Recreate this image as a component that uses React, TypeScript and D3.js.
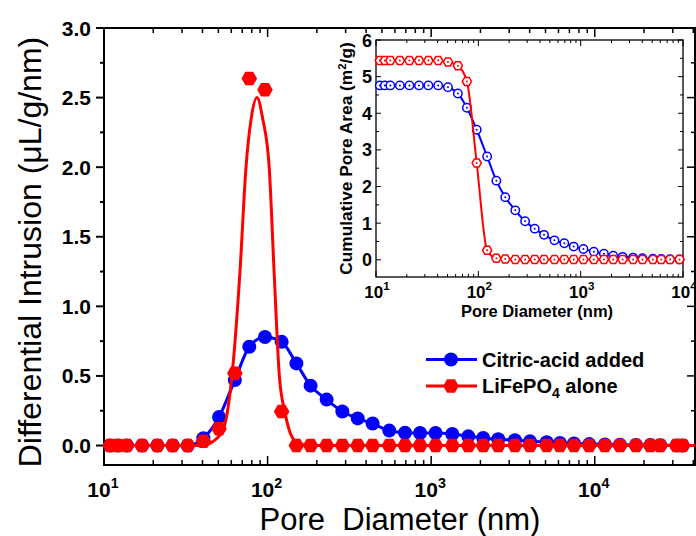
import { useEffect, useRef } from "react";
import * as d3 from "d3";

const FONT = "'Liberation Sans', Arial, Helvetica, sans-serif";
const BLUE = "#0000ff";
const RED = "#ff0000";

// pore diameters (nm) shared by both panels
const poreDiameter = [
  10.9, 12.2, 13.8, 17.1, 21.2, 26.3, 32.5, 40.5, 50.5, 63.1, 77.3, 96.4, 121.9,
  150.0, 183.2, 229.6, 286.4, 355.6, 438.5, 554.6, 691.8, 855.1, 1064, 1346,
  1687, 2080, 2570, 3251, 4018, 5082, 6124, 7464, 9247, 11535, 14256, 17865,
  21878, 25119, 31623, 34435,
];

// differential intrusion (uL/g/nm)
const citricIntrusion = [
  0, 0, 0, 0, 0, 0, 0, 0.052, 0.205, 0.47, 0.71, 0.78, 0.745, 0.59, 0.43, 0.33,
  0.244, 0.195, 0.158, 0.107, 0.092, 0.09, 0.09, 0.083, 0.066, 0.054, 0.045,
  0.038, 0.03, 0.024, 0.018, 0.014, 0.01, 0.008, 0.006, 0.004, 0.003, 0.002,
  0.001, 0,
];
const lfpIntrusion = [
  0, 0, 0, 0, 0, 0, 0, 0.03, 0.12, 0.52, 2.637, 2.557, 0.244, 0, 0, 0, 0, 0, 0,
  0, 0, 0, 0, 0, 0, 0, 0, 0, 0, 0, 0, 0, 0, 0, 0, 0, 0, 0, 0, 0,
];

// fitted curve for LiFePO4 alone
const fitDiameter = [
  10, 39.8, 46.5, 53.7, 60.8, 67.8, 73.8, 79.4, 86.1, 93.3, 102.3, 109.6, 118.0,
  127.6, 141.3, 158.5, 182.0, 41000,
];
const fitIntrusion = [
  0, 0, 0.03, 0.12, 0.52, 1.25, 2.0, 2.35, 2.5, 2.35, 2.0, 1.25, 0.5, 0.24, 0.06,
  0.01, 0, 0,
];

// inset: cumulative pore area (m2/g), first 33 diameters
const citricArea = [
  4.76, 4.76, 4.76, 4.76, 4.76, 4.76, 4.76, 4.76, 4.71, 4.54, 4.15, 3.55, 2.82,
  2.16, 1.71, 1.35, 1.05, 0.85, 0.68, 0.53, 0.45, 0.36, 0.295, 0.22, 0.165, 0.11,
  0.08, 0.06, 0.04, 0.03, 0.02, 0.015, 0.01,
];
const lfpArea = [
  5.44, 5.44, 5.44, 5.44, 5.44, 5.44, 5.44, 5.44, 5.4, 5.3, 4.87, 2.64, 0.26,
  0.04, 0.02, 0.01, 0.01, 0.01, 0.01, 0.01, 0.01, 0.01, 0.01, 0.01, 0.01, 0.01,
  0.01, 0.01, 0.01, 0.01, 0.01, 0.01, 0.01,
];

const legendLabels = ["Citric-acid added", "LiFePO"];
const mainYTicks = d3.range(0, 3.001, 0.25);
const insetYTicks = d3.range(0, 6.001, 0.5);

const hexPath = (r: number) =>
  d3.line()(
    d3.range(6).map((i) => [
      r * Math.cos((i * Math.PI) / 3),
      r * Math.sin((i * Math.PI) / 3),
    ]) as [number, number][]
  ) + "Z";

const isDecade = (d: number) =>
  Math.abs(Math.log10(d) - Math.round(Math.log10(d))) < 1e-6;

function powLabel(g: any, x: number, y: number, size: number, exp: number) {
  const t = g
    .append("text")
    .attr("x", x)
    .attr("y", y)
    .attr("text-anchor", "middle")
    .attr("font-family", FONT)
    .attr("font-weight", "bold")
    .attr("font-size", size);
  t.append("tspan").text("10");
  t.append("tspan")
    .attr("dy", -size * 0.45)
    .attr("font-size", size * 0.68)
    .text(exp);
}

function drawMain(svg: any) {
  const x = d3.scaleLog().domain([10, 41000]).range([104, 695]);
  const y = d3.scaleLinear().domain([-0.14, 3]).range([465, 28]);
  const [x0, x1] = x.range();
  const [y0, y1] = y.range();
  const g = svg.append("g");

  // frame
  g.append("rect")
    .attr("x", x0)
    .attr("y", y1)
    .attr("width", x1 - x0)
    .attr("height", y0 - y1)
    .attr("fill", "none")
    .attr("stroke", "#000")
    .attr("stroke-width", 2);

  // y ticks (out on left, in on right)
  g.selectAll(".yt")
    .data(mainYTicks)
    .join("line")
    .attr("x1", x0)
    .attr("x2", (d: number) => x0 - (d % 0.5 === 0 ? 8 : 4))
    .attr("y1", (d: number) => y(d))
    .attr("y2", (d: number) => y(d))
    .attr("stroke", "#000")
    .attr("stroke-width", 2);
  g.selectAll(".yr")
    .data(mainYTicks)
    .join("line")
    .attr("x1", x1)
    .attr("x2", (d: number) => x1 - (d % 0.5 === 0 ? 8 : 4))
    .attr("y1", (d: number) => y(d))
    .attr("y2", (d: number) => y(d))
    .attr("stroke", "#000")
    .attr("stroke-width", 1.5);

  g.selectAll(".yl")
    .data(mainYTicks.filter((d) => d % 0.5 === 0))
    .join("text")
    .attr("x", 91)
    .attr("y", (d: number) => y(d) + 7.5)
    .attr("text-anchor", "end")
    .attr("font-family", FONT)
    .attr("font-weight", "bold")
    .attr("font-size", 21)
    .text((d: number) => d3.format(".1f")(d));

  // x ticks (inward, bottom and top)
  const xt = x.ticks();
  g.selectAll(".xb")
    .data(xt)
    .join("line")
    .attr("x1", (d: number) => x(d))
    .attr("x2", (d: number) => x(d))
    .attr("y1", y0)
    .attr("y2", (d: number) => y0 - (isDecade(d) ? 9 : 5))
    .attr("stroke", "#000")
    .attr("stroke-width", 1.5);
  g.selectAll(".xtp")
    .data(xt)
    .join("line")
    .attr("x1", (d: number) => x(d))
    .attr("x2", (d: number) => x(d))
    .attr("y1", y1)
    .attr("y2", (d: number) => y1 + (isDecade(d) ? 9 : 5))
    .attr("stroke", "#000")
    .attr("stroke-width", 1.5);
  xt.filter(isDecade).forEach((d: number) =>
    powLabel(g, x(d) - 1, 497, 21, Math.round(Math.log10(d)))
  );

  // axis titles
  g.append("text")
    .attr("transform", "translate(41,252) rotate(-90)")
    .attr("text-anchor", "middle")
    .attr("font-family", FONT)
    .attr("font-size", 32)
    .text("Differential Intrusion (\u03bcL/g/nm)");
  g.append("text")
    .attr("x", 400)
    .attr("y", 530)
    .attr("text-anchor", "middle")
    .attr("font-family", FONT)
    .attr("font-size", 31)
    .style("white-space", "pre")
    .text("Pore  Diameter (nm)");

  const line = d3
    .line<number>()
    .x((d, i) => x(poreDiameter[i]))
    .y((d) => y(d))
    .curve(d3.curveMonotoneX);

  // citric acid
  g.append("path")
    .attr("d", line(citricIntrusion))
    .attr("fill", "none")
    .attr("stroke", BLUE)
    .attr("stroke-width", 3);
  g.selectAll(".bc")
    .data(citricIntrusion)
    .join("circle")
    .attr("cx", (d: number, i: number) => x(poreDiameter[i]))
    .attr("cy", (d: number) => y(d))
    .attr("r", 7)
    .attr("fill", BLUE);

  // LiFePO4 fit and points
  const fit = d3
    .line<number>()
    .x((d, i) => x(fitDiameter[i]))
    .y((d) => y(d))
    .curve(d3.curveMonotoneX);
  g.append("path")
    .attr("d", fit(fitIntrusion))
    .attr("fill", "none")
    .attr("stroke", RED)
    .attr("stroke-width", 3);
  g.selectAll(".rh")
    .data(lfpIntrusion)
    .join("path")
    .attr("d", hexPath(7.8))
    .attr(
      "transform",
      (d: number, i: number) => `translate(${x(poreDiameter[i])},${y(d)})`
    )
    .attr("fill", RED);

  // legend
  const lg = g.append("g");
  const rows = [
    { y: 359.5, color: BLUE },
    { y: 386, color: RED },
  ];
  rows.forEach((r, i) => {
    lg.append("line")
      .attr("x1", 426)
      .attr("x2", 477)
      .attr("y1", r.y)
      .attr("y2", r.y)
      .attr("stroke", r.color)
      .attr("stroke-width", 3);
    if (i === 0)
      lg.append("circle")
        .attr("cx", 451)
        .attr("cy", r.y)
        .attr("r", 7)
        .attr("fill", r.color);
    else
      lg.append("path")
        .attr("d", hexPath(7.8))
        .attr("transform", `translate(451,${r.y})`)
        .attr("fill", r.color);
    const t = lg
      .append("text")
      .attr("x", 482)
      .attr("y", r.y + 7)
      .attr("font-family", FONT)
      .attr("font-weight", "bold")
      .attr("font-size", 20)
      .style("white-space", "pre");
    t.append("tspan").text(legendLabels[i]);
    if (i === 1) {
      t.append("tspan").attr("dy", 5).attr("font-size", 14).text("4");
      t.append("tspan").attr("dy", -5).text(" alone");
    }
  });
}

function drawInset(svg: any) {
  const x = d3.scaleLog().domain([10, 10000]).range([376, 683]);
  const y = d3.scaleLinear().domain([-0.47, 6]).range([277, 40]);
  const [x0, x1] = x.range();
  const [y0, y1] = y.range();
  const g = svg.append("g");
  const n = citricArea.length;
  const dia = poreDiameter.slice(0, n);

  g.append("rect")
    .attr("x", x0)
    .attr("y", y1)
    .attr("width", x1 - x0)
    .attr("height", y0 - y1)
    .attr("fill", "#fff")
    .attr("stroke", "#000")
    .attr("stroke-width", 1.3);

  const major = (d: number) => Number.isInteger(d);
  [x0, x1].forEach((xx, k) =>
    g
      .selectAll(".iy" + k)
      .data(insetYTicks)
      .join("line")
      .attr("x1", xx)
      .attr("x2", (d: number) => xx + (k === 0 ? 1 : -1) * (major(d) ? 5 : 3))
      .attr("y1", (d: number) => y(d))
      .attr("y2", (d: number) => y(d))
      .attr("stroke", "#000")
      .attr("stroke-width", 1)
  );
  const xt = x.ticks();
  [y0, y1].forEach((yy, k) =>
    g
      .selectAll(".ix" + k)
      .data(xt)
      .join("line")
      .attr("x1", (d: number) => x(d))
      .attr("x2", (d: number) => x(d))
      .attr("y1", yy)
      .attr("y2", (d: number) => yy + (k === 0 ? -1 : 1) * (isDecade(d) ? 6 : 3))
      .attr("stroke", "#000")
      .attr("stroke-width", 1)
  );

  g.selectAll(".iyl")
    .data(insetYTicks.filter(major))
    .join("text")
    .attr("x", 372)
    .attr("y", (d: number) => y(d) + 6.5)
    .attr("text-anchor", "end")
    .attr("font-family", FONT)
    .attr("font-weight", "bold")
    .attr("font-size", 18)
    .text((d: number) => d);
  xt.filter(isDecade).forEach((d: number) =>
    powLabel(g, x(d) + 1, 298, 17, Math.round(Math.log10(d)))
  );

  const yl = g
    .append("text")
    .attr("transform", "translate(352,158.5) rotate(-90)")
    .attr("text-anchor", "middle")
    .attr("font-family", FONT)
    .attr("font-weight", "bold")
    .attr("font-size", 17.3);
  yl.append("tspan").text("Cumulative Pore Area (m");
  yl.append("tspan").attr("dy", -6).attr("font-size", 11.5).text("2");
  yl.append("tspan").attr("dy", 6).text("/g)");
  g.append("text")
    .attr("x", 537)
    .attr("y", 317)
    .attr("text-anchor", "middle")
    .attr("font-family", FONT)
    .attr("font-weight", "bold")
    .attr("font-size", 16.5)
    .text("Pore Diameter (nm)");

  const line = d3
    .line<number>()
    .x((d, i) => x(dia[i]))
    .y((d) => y(d))
    .curve(d3.curveMonotoneX);

  const series = [
    { values: citricArea, color: BLUE, hex: false },
    { values: lfpArea, color: RED, hex: true },
  ];
  series.forEach((s, k) => {
    g.append("path")
      .attr("d", line(s.values))
      .attr("fill", "none")
      .attr("stroke", s.color)
      .attr("stroke-width", 2);
    const m = g
      .selectAll(".im" + k)
      .data(s.values)
      .join("g")
      .attr(
        "transform",
        (d: number, i: number) => `translate(${x(dia[i])},${y(d)})`
      );
    if (s.hex)
      m.append("path")
        .attr("d", hexPath(4.6))
        .attr("fill", "#fff")
        .attr("stroke", s.color)
        .attr("stroke-width", 1.5);
    else
      m.append("circle")
        .attr("r", 4.2)
        .attr("fill", "#fff")
        .attr("stroke", s.color)
        .attr("stroke-width", 1.5);
    m.append("circle").attr("r", 1).attr("fill", s.color);
  });
}

export default function App() {
  const ref = useRef<SVGSVGElement>(null);

  useEffect(() => {
    const svg = d3.select(ref.current);
    svg.selectAll("*").remove();
    drawMain(svg);
    drawInset(svg);
  }, []);

  return (
    <svg
      ref={ref}
      width={696}
      height={536}
      style={{ position: "absolute", left: 0, top: 0, background: "#fff" }}
    />
  );
}
